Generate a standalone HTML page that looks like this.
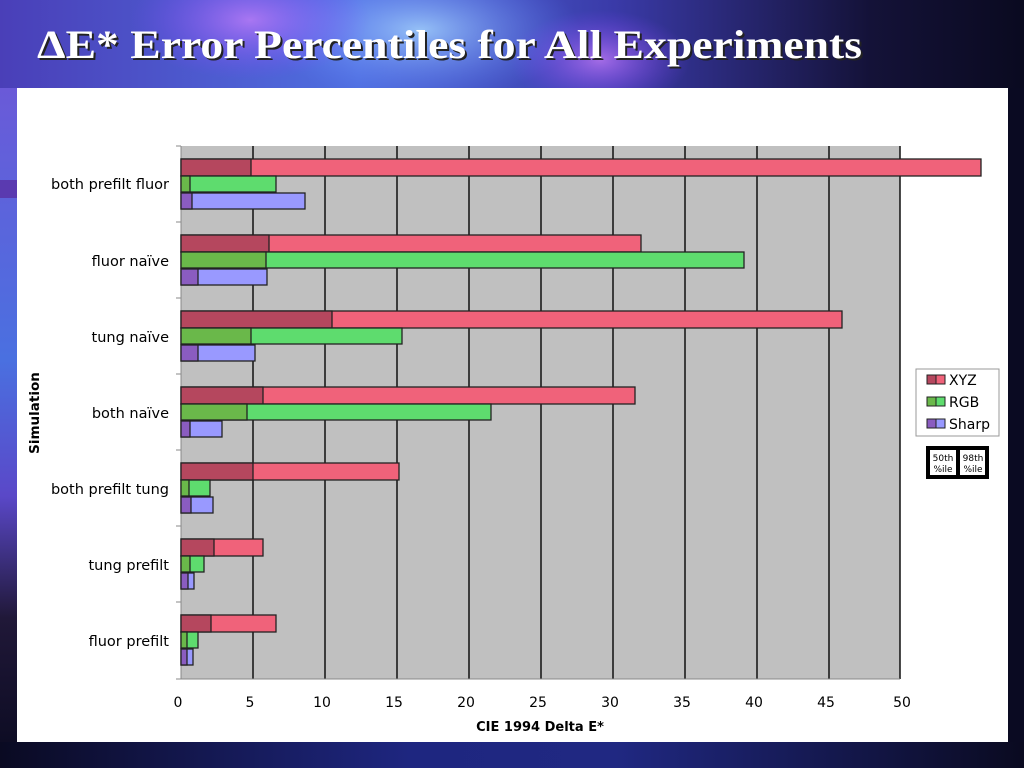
<!DOCTYPE html>
<html><head><meta charset="utf-8"><style>
html,body{margin:0;padding:0;width:1024px;height:768px;overflow:hidden;background:#0b0a2a}
svg{display:block}
</style></head><body>
<svg width="1024" height="768" xmlns="http://www.w3.org/2000/svg">
<defs>
<linearGradient id="bg" x1="0" y1="0" x2="1" y2="0">
<stop offset="0" stop-color="#4a3fb8"/><stop offset="0.35" stop-color="#4f6fe0"/><stop offset="0.6" stop-color="#3a3aa8"/><stop offset="0.85" stop-color="#141238"/><stop offset="1" stop-color="#0a0a20"/>
</linearGradient>
<linearGradient id="left" x1="0" y1="0" x2="0" y2="1">
<stop offset="0" stop-color="#6a5ad8"/><stop offset="0.4" stop-color="#4a70e0"/><stop offset="0.6" stop-color="#5a48c8"/><stop offset="0.78" stop-color="#201838"/><stop offset="1" stop-color="#0a0a20"/>
</linearGradient>
<radialGradient id="g1" cx="0.5" cy="0.5" r="0.5"><stop offset="0" stop-color="#a8d8ff" stop-opacity="0.8"/><stop offset="1" stop-color="#6080ff" stop-opacity="0"/></radialGradient>
<radialGradient id="g2" cx="0.5" cy="0.5" r="0.5"><stop offset="0" stop-color="#d080ff" stop-opacity="0.7"/><stop offset="1" stop-color="#8040ff" stop-opacity="0"/></radialGradient>
<linearGradient id="bot" x1="0" y1="0" x2="1" y2="0">
<stop offset="0" stop-color="#0a0a22"/><stop offset="0.4" stop-color="#1e2680"/><stop offset="0.6" stop-color="#202882"/><stop offset="1" stop-color="#0a0a20"/>
</linearGradient>
</defs>
<rect width="1024" height="768" fill="url(#bg)"/>
<rect x="0" y="88" width="17" height="680" fill="url(#left)"/>
<rect x="1008" y="88" width="16" height="680" fill="#0a0a22"/>
<rect y="742" width="1024" height="26" fill="url(#bot)"/>
<ellipse cx="420" cy="30" rx="160" ry="70" fill="url(#g1)"/>
<ellipse cx="250" cy="20" rx="120" ry="60" fill="url(#g2)"/>
<ellipse cx="600" cy="60" rx="90" ry="50" fill="url(#g2)"/>
<rect x="0" y="180" width="17" height="18" fill="#5a3ab0"/>
<text x="37" y="58" font-family="Liberation Serif, serif" font-weight="bold" font-size="40" fill="#222" textLength="825" lengthAdjust="spacingAndGlyphs" transform="translate(2,2)">ΔE* Error Percentiles for All Experiments</text>
<text x="37" y="58" font-family="Liberation Serif, serif" font-weight="bold" font-size="40" fill="#fff" textLength="825" lengthAdjust="spacingAndGlyphs">ΔE* Error Percentiles for All Experiments</text>
<rect x="17" y="88" width="991" height="654" fill="#fff"/>
<rect x="181" y="146" width="719" height="533" fill="#c0c0c0"/>
<g stroke="#111" stroke-width="1.5">
<line x1="253" y1="146" x2="253" y2="679"/><line x1="325" y1="146" x2="325" y2="679"/><line x1="397" y1="146" x2="397" y2="679"/><line x1="469" y1="146" x2="469" y2="679"/><line x1="541" y1="146" x2="541" y2="679"/><line x1="613" y1="146" x2="613" y2="679"/><line x1="685" y1="146" x2="685" y2="679"/><line x1="757" y1="146" x2="757" y2="679"/><line x1="829" y1="146" x2="829" y2="679"/><line x1="900" y1="146" x2="900" y2="679"/>
</g>
<g stroke="#888" stroke-width="1"><line x1="181" y1="146" x2="181" y2="679"/><line x1="181" y1="679" x2="900" y2="679"/>
<line x1="176" y1="146" x2="181" y2="146"/><line x1="176" y1="222" x2="181" y2="222"/><line x1="176" y1="298" x2="181" y2="298"/><line x1="176" y1="374" x2="181" y2="374"/><line x1="176" y1="450" x2="181" y2="450"/><line x1="176" y1="526" x2="181" y2="526"/><line x1="176" y1="602" x2="181" y2="602"/><line x1="176" y1="679" x2="181" y2="679"/></g>
<g stroke="#222" stroke-width="1.3">
<rect x="181" y="159" width="800" height="17" fill="#f0627a"/><rect x="181" y="159" width="70" height="17" fill="#b5475e"/>
<rect x="181" y="176" width="95" height="16" fill="#5edc6e"/><rect x="181" y="176" width="9" height="16" fill="#6ab84a"/>
<rect x="181" y="193" width="124" height="16" fill="#9999ff"/><rect x="181" y="193" width="11" height="16" fill="#8a5cc0"/>
<rect x="181" y="235" width="460" height="17" fill="#f0627a"/><rect x="181" y="235" width="88" height="17" fill="#b5475e"/>
<rect x="181" y="252" width="563" height="16" fill="#5edc6e"/><rect x="181" y="252" width="85" height="16" fill="#6ab84a"/>
<rect x="181" y="269" width="86" height="16" fill="#9999ff"/><rect x="181" y="269" width="17" height="16" fill="#8a5cc0"/>
<rect x="181" y="311" width="661" height="17" fill="#f0627a"/><rect x="181" y="311" width="151" height="17" fill="#b5475e"/>
<rect x="181" y="328" width="221" height="16" fill="#5edc6e"/><rect x="181" y="328" width="70" height="16" fill="#6ab84a"/>
<rect x="181" y="345" width="74" height="16" fill="#9999ff"/><rect x="181" y="345" width="17" height="16" fill="#8a5cc0"/>
<rect x="181" y="387" width="454" height="17" fill="#f0627a"/><rect x="181" y="387" width="82" height="17" fill="#b5475e"/>
<rect x="181" y="404" width="310" height="16" fill="#5edc6e"/><rect x="181" y="404" width="66" height="16" fill="#6ab84a"/>
<rect x="181" y="421" width="41" height="16" fill="#9999ff"/><rect x="181" y="421" width="9" height="16" fill="#8a5cc0"/>
<rect x="181" y="463" width="218" height="17" fill="#f0627a"/><rect x="181" y="463" width="72" height="17" fill="#b5475e"/>
<rect x="181" y="480" width="29" height="16" fill="#5edc6e"/><rect x="181" y="480" width="8" height="16" fill="#6ab84a"/>
<rect x="181" y="497" width="32" height="16" fill="#9999ff"/><rect x="181" y="497" width="10" height="16" fill="#8a5cc0"/>
<rect x="181" y="539" width="82" height="17" fill="#f0627a"/><rect x="181" y="539" width="33" height="17" fill="#b5475e"/>
<rect x="181" y="556" width="23" height="16" fill="#5edc6e"/><rect x="181" y="556" width="9" height="16" fill="#6ab84a"/>
<rect x="181" y="573" width="13" height="16" fill="#9999ff"/><rect x="181" y="573" width="7" height="16" fill="#8a5cc0"/>
<rect x="181" y="615" width="95" height="17" fill="#f0627a"/><rect x="181" y="615" width="30" height="17" fill="#b5475e"/>
<rect x="181" y="632" width="17" height="16" fill="#5edc6e"/><rect x="181" y="632" width="6" height="16" fill="#6ab84a"/>
<rect x="181" y="649" width="12" height="16" fill="#9999ff"/><rect x="181" y="649" width="6" height="16" fill="#8a5cc0"/>
</g>
<g font-family="DejaVu Sans, sans-serif" font-size="14.5" fill="#000" text-anchor="end">
<text x="169" y="189">both prefilt fluor</text>
<text x="169" y="266">fluor naïve</text>
<text x="169" y="342">tung naïve</text>
<text x="169" y="418">both naïve</text>
<text x="169" y="494">both prefilt tung</text>
<text x="169" y="570">tung prefilt</text>
<text x="169" y="646">fluor prefilt</text>
</g>
<g font-family="DejaVu Sans, sans-serif" font-size="14" fill="#000" text-anchor="middle">
<text x="178" y="707">0</text><text x="250" y="707">5</text><text x="322" y="707">10</text><text x="394" y="707">15</text><text x="466" y="707">20</text><text x="538" y="707">25</text><text x="610" y="707">30</text><text x="682" y="707">35</text><text x="754" y="707">40</text><text x="826" y="707">45</text><text x="902" y="707">50</text>
</g>
<text x="540" y="731" font-family="DejaVu Sans, sans-serif" font-size="13" font-weight="bold" text-anchor="middle">CIE 1994 Delta E*</text>
<text transform="translate(39,413) rotate(-90)" font-family="DejaVu Sans, sans-serif" font-size="13.5" font-weight="bold" text-anchor="middle">Simulation</text>
<rect x="916" y="369" width="83" height="67" fill="#fff" stroke="#999" stroke-width="1"/>
<g stroke="#222" stroke-width="1">
<rect x="927" y="375" width="9" height="9" fill="#b5475e"/><rect x="936" y="375" width="9" height="9" fill="#f0627a"/>
<rect x="927" y="397" width="9" height="9" fill="#6ab84a"/><rect x="936" y="397" width="9" height="9" fill="#5edc6e"/>
<rect x="927" y="419" width="9" height="9" fill="#8a5cc0"/><rect x="936" y="419" width="9" height="9" fill="#9999ff"/>
</g>
<g font-family="DejaVu Sans, sans-serif" font-size="14" fill="#000">
<text x="949" y="385">XYZ</text><text x="949" y="407">RGB</text><text x="949" y="429">Sharp</text>
</g>
<rect x="926" y="446" width="63" height="33" fill="#000"/>
<rect x="930" y="450" width="26" height="25" fill="#fff"/><rect x="960" y="450" width="25" height="25" fill="#fff"/>
<g font-family="DejaVu Sans, sans-serif" font-size="9" fill="#000" text-anchor="middle">
<text x="943" y="461">50th</text><text x="943" y="472">%ile</text>
<text x="973" y="461">98th</text><text x="973" y="472">%ile</text>
</g>
</svg>
</body></html>
